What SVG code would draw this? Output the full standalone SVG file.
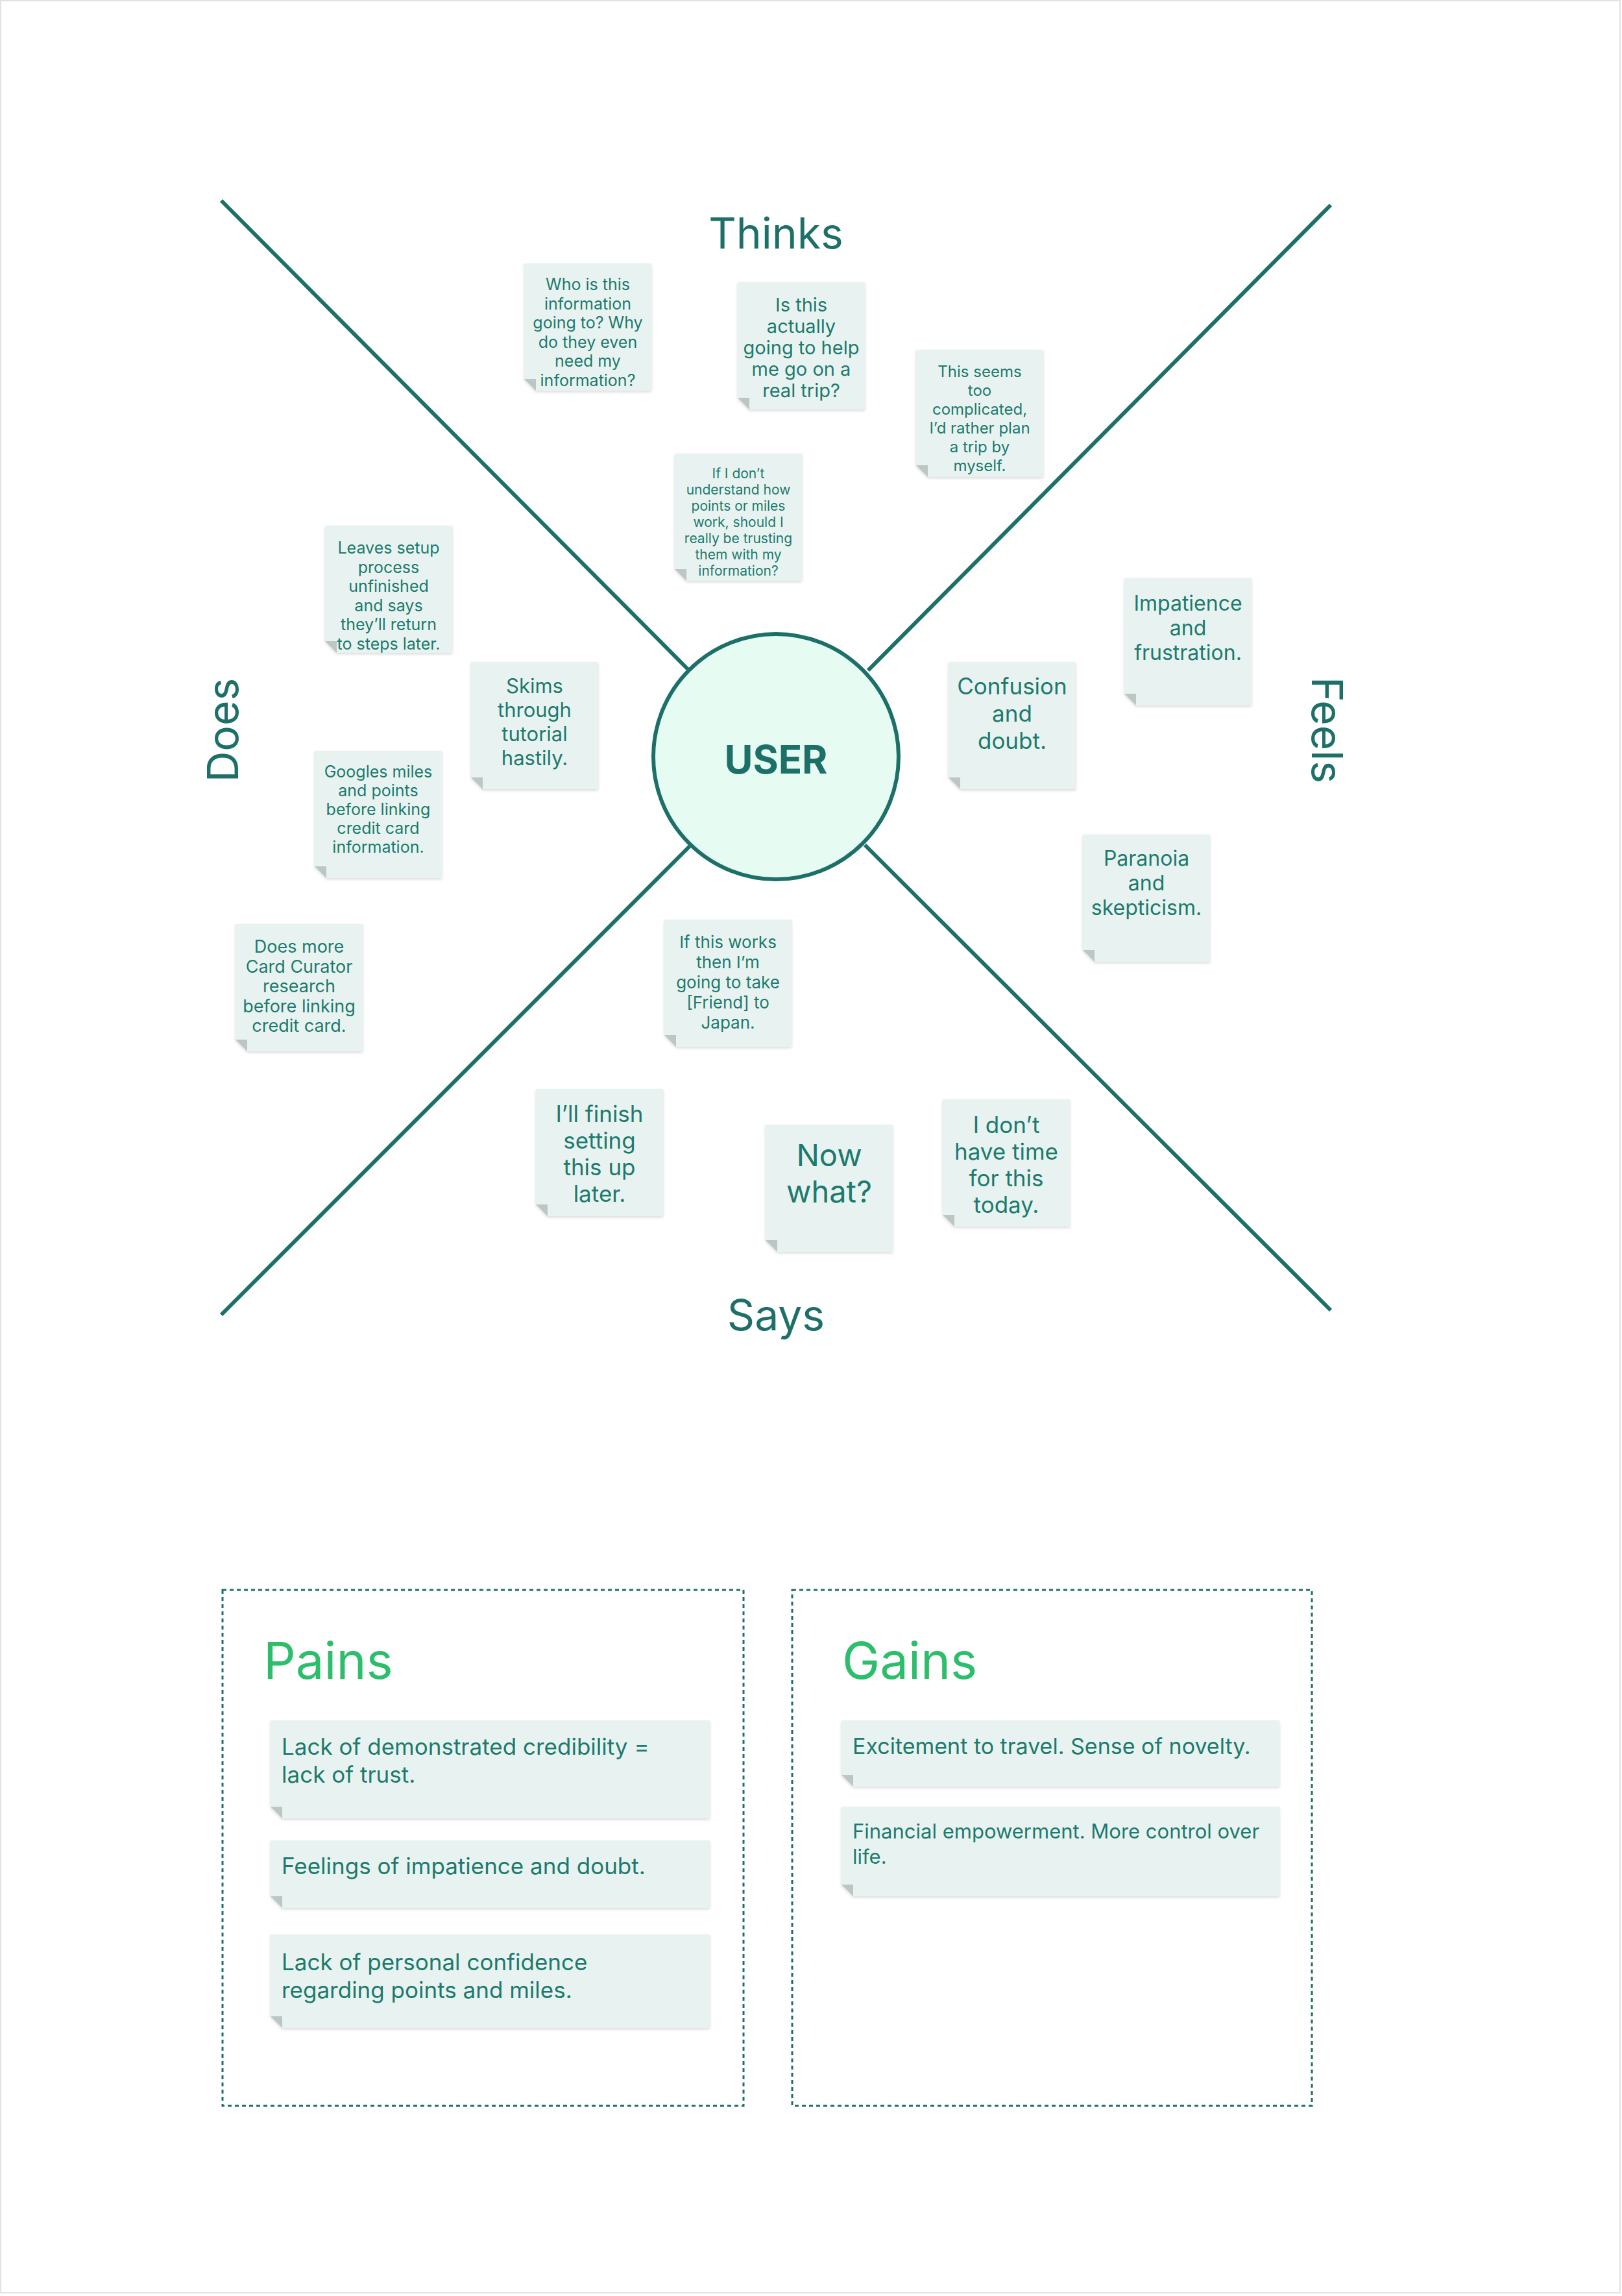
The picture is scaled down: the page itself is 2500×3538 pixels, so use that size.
<svg xmlns="http://www.w3.org/2000/svg" xmlns:xlink="http://www.w3.org/1999/xlink" width="2500" height="3538" viewBox="0 0 2500 3538">
<style>
.t{font-family:Inter,"Noto Sans","Liberation Sans",sans-serif;fill:#1d7a6d;text-anchor:middle}
.h{font-family:Inter,"Noto Sans","Liberation Sans",sans-serif;fill:#1d7068;font-size:66px;text-anchor:middle}
.g{font-family:Inter,"Noto Sans","Liberation Sans",sans-serif;fill:#2dbe6c;font-size:78px}
.l{font-family:Inter,"Noto Sans","Liberation Sans",sans-serif;fill:#1d7a6d}
.ln{stroke:#1d7068;stroke-width:6;fill:none}
.nf{fill:#e8f3f1}
.fold{fill:#bcc6c4}
.box{fill:none;stroke:#1d7068;stroke-width:3;stroke-dasharray:6 5}
</style>
<defs>
<filter id="sh" x="-10%" y="-10%" width="120%" height="120%"><feDropShadow dx="0" dy="2" stdDeviation="2" flood-opacity="0.15"/></filter>
<g id="note"><path class="nf" d="M0 0H196V196H18L0 178Z" filter="url(#sh)"/><path class="fold" d="M0 178H18V196Z"/></g>
</defs>
<rect width="2500" height="3538" fill="#ffffff"/>
<rect x="1" y="1" width="2496" height="3532" fill="none" stroke="#e2e2e2" stroke-width="2"/>
<g id="connectors">
<line class="ln" x1="341" y1="309" x2="1060" y2="1031"/>
<line class="ln" x1="2051" y1="316" x2="1338" y2="1033"/>
<line class="ln" x1="1063" y1="1304" x2="341" y2="2026"/>
<line class="ln" x1="1333" y1="1302" x2="2051" y2="2019"/>
</g>
<g id="user"><circle cx="1196" cy="1166" r="189" fill="#e6fbf2" stroke="#1d7068" stroke-width="6"/>
<text class="t" x="1196" y="1192" font-size="60" font-weight="700" style="fill:#1d7068">USER</text></g>
<g id="labels">
<text class="h" x="1196" y="383">Thinks</text>
<text class="h" x="1196" y="2050">Says</text>
<text class="h" transform="translate(367,1125) rotate(-90)">Does</text>
<text class="h" transform="translate(2022,1125) rotate(90)">Feels</text>
</g>
<g id="n1"><use xlink:href="#note" x="808" y="406"/><text class="t" font-size="25" x="906" y="447"><tspan x="906">Who is this</tspan><tspan x="906" dy="29.5">information</tspan><tspan x="906" dy="29.5">going to? Why</tspan><tspan x="906" dy="29.5">do they even</tspan><tspan x="906" dy="29.5">need my</tspan><tspan x="906" dy="29.5">information?</tspan></text></g>
<g id="n2"><use xlink:href="#note" x="1137" y="435"/><text class="t" font-size="29" x="1235" y="480"><tspan x="1235">Is this</tspan><tspan x="1235" dy="33">actually</tspan><tspan x="1235" dy="33">going to help</tspan><tspan x="1235" dy="33">me go on a</tspan><tspan x="1235" dy="33">real trip?</tspan></text></g>
<g id="n3"><use xlink:href="#note" x="1412" y="539"/><text class="t" font-size="24" x="1510" y="581"><tspan x="1510">This seems</tspan><tspan x="1510" dy="29">too</tspan><tspan x="1510" dy="29">complicated,</tspan><tspan x="1510" dy="29">I’d rather plan</tspan><tspan x="1510" dy="29">a trip by</tspan><tspan x="1510" dy="29">myself.</tspan></text></g>
<g id="n4"><use xlink:href="#note" x="1040" y="699"/><text class="t" font-size="21" x="1138" y="737"><tspan x="1138">If I don’t</tspan><tspan x="1138" dy="25">understand how</tspan><tspan x="1138" dy="25">points or miles</tspan><tspan x="1138" dy="25">work, should I</tspan><tspan x="1138" dy="25">really be trusting</tspan><tspan x="1138" dy="25">them with my</tspan><tspan x="1138" dy="25">information?</tspan></text></g>
<g id="n5"><use xlink:href="#note" x="501" y="810"/><text class="t" font-size="25" x="599" y="853"><tspan x="599">Leaves setup</tspan><tspan x="599" dy="29.5">process</tspan><tspan x="599" dy="29.5">unfinished</tspan><tspan x="599" dy="29.5">and says</tspan><tspan x="599" dy="29.5">they’ll return</tspan><tspan x="599" dy="29.5">to steps later.</tspan></text></g>
<g id="n6"><use xlink:href="#note" x="726" y="1020"/><text class="t" font-size="31" x="824" y="1068"><tspan x="824">Skims</tspan><tspan x="824" dy="37">through</tspan><tspan x="824" dy="37">tutorial</tspan><tspan x="824" dy="37">hastily.</tspan></text></g>
<g id="n7"><use xlink:href="#note" x="485" y="1157"/><text class="t" font-size="25" x="583" y="1198"><tspan x="583">Googles miles</tspan><tspan x="583" dy="29">and points</tspan><tspan x="583" dy="29">before linking</tspan><tspan x="583" dy="29">credit card</tspan><tspan x="583" dy="29">information.</tspan></text></g>
<g id="n8"><use xlink:href="#note" x="363" y="1424"/><text class="t" font-size="27" x="461" y="1468"><tspan x="461">Does more</tspan><tspan x="461" dy="30.5">Card Curator</tspan><tspan x="461" dy="30.5">research</tspan><tspan x="461" dy="30.5">before linking</tspan><tspan x="461" dy="30.5">credit card.</tspan></text></g>
<g id="n9"><use xlink:href="#note" x="1024" y="1417"/><text class="t" font-size="26" x="1122" y="1461"><tspan x="1122">If this works</tspan><tspan x="1122" dy="31">then I’m</tspan><tspan x="1122" dy="31">going to take</tspan><tspan x="1122" dy="31">[Friend] to</tspan><tspan x="1122" dy="31">Japan.</tspan></text></g>
<g id="n10"><use xlink:href="#note" x="1733" y="891"/><text class="t" font-size="32" x="1831" y="941"><tspan x="1831">Impatience</tspan><tspan x="1831" dy="38">and</tspan><tspan x="1831" dy="38">frustration.</tspan></text></g>
<g id="n11"><use xlink:href="#note" x="1462" y="1020"/><text class="t" font-size="35" x="1560" y="1070"><tspan x="1560">Confusion</tspan><tspan x="1560" dy="42">and</tspan><tspan x="1560" dy="42">doubt.</tspan></text></g>
<g id="n12"><use xlink:href="#note" x="1669" y="1286"/><text class="t" font-size="32" x="1767" y="1334"><tspan x="1767">Paranoia</tspan><tspan x="1767" dy="38">and</tspan><tspan x="1767" dy="38">skepticism.</tspan></text></g>
<g id="n13"><use xlink:href="#note" x="826" y="1678"/><text class="t" font-size="35" x="924" y="1729"><tspan x="924">I’ll finish</tspan><tspan x="924" dy="41">setting</tspan><tspan x="924" dy="41">this up</tspan><tspan x="924" dy="41">later.</tspan></text></g>
<g id="n14"><use xlink:href="#note" x="1180" y="1733"/><text class="t" font-size="47" x="1278" y="1797"><tspan x="1278">Now</tspan><tspan x="1278" dy="56">what?</tspan></text></g>
<g id="n15"><use xlink:href="#note" x="1453" y="1694"/><text class="t" font-size="35" x="1551" y="1746"><tspan x="1551">I don’t</tspan><tspan x="1551" dy="41">have time</tspan><tspan x="1551" dy="41">for this</tspan><tspan x="1551" dy="41">today.</tspan></text></g>
<g id="pains">
<rect class="box" x="343" y="2450" width="803" height="795"/>
<text class="g" x="406" y="2587">Pains</text>
<path class="nf" filter="url(#sh)" d="M417 2651H1094V2802H435L417 2784Z"/><path class="fold" d="M417 2784H435V2802Z"/>
<text class="l" font-size="35"><tspan x="434" y="2704">Lack of demonstrated credibility =</tspan><tspan x="434" y="2747">lack of trust.</tspan></text>
<path class="nf" filter="url(#sh)" d="M417 2836H1094V2940H435L417 2922Z"/><path class="fold" d="M417 2922H435V2940Z"/>
<text class="l" font-size="35" x="434" y="2888">Feelings of impatience and doubt.</text>
<path class="nf" filter="url(#sh)" d="M417 2981H1094V3125H435L417 3107Z"/><path class="fold" d="M417 3107H435V3125Z"/>
<text class="l" font-size="35"><tspan x="434" y="3036">Lack of personal confidence</tspan><tspan x="434" y="3079">regarding points and miles.</tspan></text>
</g>
<g id="gains">
<rect class="box" x="1221" y="2450" width="801" height="795"/>
<text class="g" x="1298" y="2587">Gains</text>
<path class="nf" filter="url(#sh)" d="M1297 2651H1972V2753H1315L1297 2735Z"/><path class="fold" d="M1297 2735H1315V2753Z"/>
<text class="l" font-size="34" x="1314" y="2703">Excitement to travel. Sense of novelty.</text>
<path class="nf" filter="url(#sh)" d="M1297 2784H1972V2922H1315L1297 2904Z"/><path class="fold" d="M1297 2904H1315V2922Z"/>
<text class="l" font-size="31"><tspan x="1314" y="2833">Financial empowerment. More control over</tspan><tspan x="1314" y="2872">life.</tspan></text>
</g>
</svg>
